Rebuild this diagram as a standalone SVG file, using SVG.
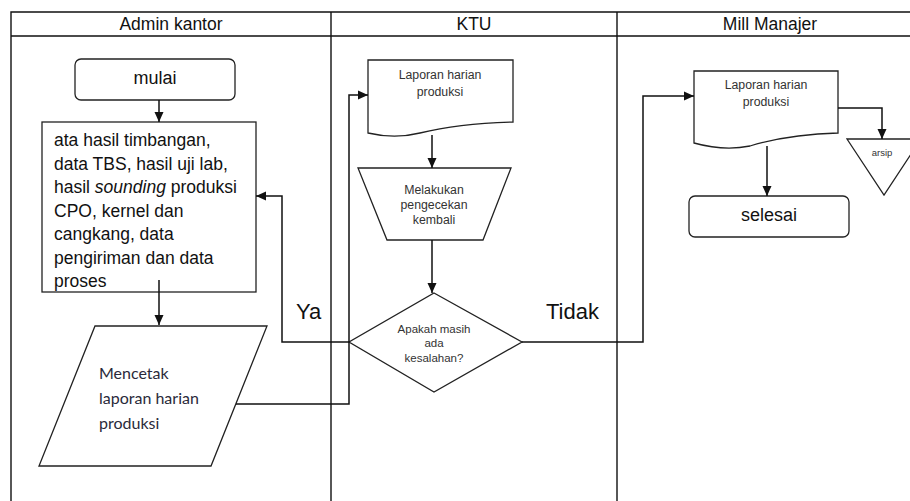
<svg xmlns="http://www.w3.org/2000/svg" width="910" height="501" viewBox="0 0 910 501">
<style>
.lane{fill:none;stroke:#111;stroke-width:1.4}
.shape{fill:#fff;stroke:#222;stroke-width:1.3}
.conn{fill:none;stroke:#111;stroke-width:1.5}
.t{font-family:"Liberation Sans",Arial,sans-serif;fill:#111}
.hdr{font-size:17.5px;text-anchor:middle}
.big{font-size:17.5px}
.sm{font-size:12.3px;text-anchor:middle;fill:#333}
.lbl{font-size:22px}
.cal{font-family:Lato,"Open Sans",sans-serif;font-size:16px;fill:#2a2a3a}
</style>
<defs>
<marker id="ah" markerUnits="userSpaceOnUse" markerWidth="10" markerHeight="10" refX="10" refY="5" orient="auto">
<path d="M0,0.5 L10,5 L0,9.5 z" fill="#111"/>
</marker>
</defs>
<rect width="910" height="501" fill="#fff"/>
<g id="lanes">
<path class="lane" d="M11,501 V12 H912 M11,36 H912 M331,12 V501 M617,12 V501"/>
<text class="t hdr" x="171" y="30">Admin kantor</text>
<text class="t hdr" x="474" y="30">KTU</text>
<text class="t hdr" x="770" y="30">Mill Manajer</text>
</g>
<g id="mulai">
<rect class="shape" x="75" y="59" width="160" height="41" rx="6"/>
<text class="t hdr" x="155" y="84" style="font-size:18px">mulai</text>
</g>
<g id="data">
<rect class="shape" x="42" y="122" width="214" height="170"/>
<text class="t big" x="54" y="146">ata hasil timbangan,</text>
<text class="t big" x="54" y="169.5">data TBS, hasil uji lab,</text>
<text class="t big" x="54" y="193">hasil <tspan font-style="italic">sounding</tspan> produksi</text>
<text class="t big" x="54" y="216.5">CPO, kernel dan</text>
<text class="t big" x="54" y="240">cangkang, data</text>
<text class="t big" x="54" y="263.5">pengiriman dan data</text>
<text class="t big" x="54" y="287">proses</text>
</g>
<g id="mencetak">
<polygon class="shape" points="95,326 267,326 211,466 39,466"/>
<text class="t cal" x="99" y="379">Mencetak</text>
<text class="t cal" x="99" y="404">laporan harian</text>
<text class="t cal" x="99" y="429">produksi</text>
</g>
<g id="ktu-doc">
<path class="shape" d="M368,60 H513 V122 C470,123 440,128 420,133 C400,138 385,137 368,133 Z"/>
<text class="t sm" x="440" y="79">Laporan harian</text>
<text class="t sm" x="440" y="96">produksi</text>
</g>
<g id="pengecekan">
<polygon class="shape" points="358,168 511,168 483,240 387,240"/>
<text class="t sm" x="434" y="194">Melakukan</text>
<text class="t sm" x="434" y="209">pengecekan</text>
<text class="t sm" x="434" y="224">kembali</text>
</g>
<g id="keputusan">
<polygon class="shape" points="434,293 522,342 434,392 349,342"/>
<text class="t sm" x="434" y="333" style="font-size:11.5px">Apakah masih</text>
<text class="t sm" x="434" y="347" style="font-size:11.5px">ada</text>
<text class="t sm" x="434" y="362" style="font-size:11.5px">kesalahan?</text>
</g>
<g id="mill-doc">
<path class="shape" d="M694,71 H838 V133 C795,134 770,140 750,146 C730,150 712,148 694,143 Z"/>
<text class="t sm" x="766" y="89">Laporan harian</text>
<text class="t sm" x="766" y="106">produksi</text>
</g>
<g id="selesai">
<rect class="shape" x="689" y="196" width="160" height="41" rx="6"/>
<text class="t hdr" x="769" y="221" style="font-size:18px">selesai</text>
</g>
<g id="arsip">
<polygon class="shape" points="847,139 921,139 884,195"/>
<text class="t sm" x="882" y="156" style="font-size:9.5px">arsip</text>
</g>
<g id="connectors">
<path class="conn" d="M159,100 V122" marker-end="url(#ah)"/>
<path class="conn" d="M159,280 V325" marker-end="url(#ah)"/>
<path class="conn" d="M236,404 H349 V95 H368" marker-end="url(#ah)"/>
<path class="conn" d="M432,135 V168" marker-end="url(#ah)"/>
<path class="conn" d="M432,240 V293" marker-end="url(#ah)"/>
<path class="conn" d="M349,342 H282 V196 H256" marker-end="url(#ah)"/>
<path class="conn" d="M522,342 H643 V96 H694" marker-end="url(#ah)"/>
<path class="conn" d="M767,146 V196" marker-end="url(#ah)"/>
<path class="conn" d="M838,108 H882 V139" marker-end="url(#ah)"/>
<text class="t lbl" x="296" y="319">Ya</text>
<text class="t lbl" x="546" y="319">Tidak</text>
</g>
</svg>
